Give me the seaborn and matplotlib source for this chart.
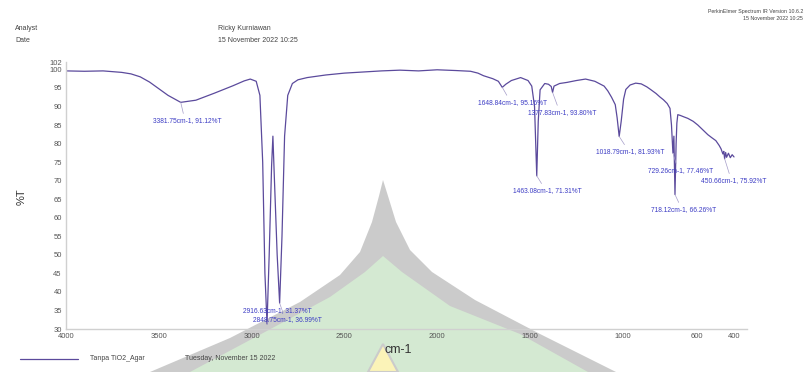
import numpy as np
import pandas as pd
import matplotlib
matplotlib.use("Agg")
import matplotlib.pyplot as plt
from matplotlib.patches import Polygon
import seaborn as sns

# spettro IR (cm-1, %T)
wn = [4000, 3900, 3800, 3700, 3650, 3600, 3550, 3500, 3450, 3381.75, 3300, 3200, 3100, 3040,
      3007, 2975, 2955, 2940, 2928, 2916.63, 2905, 2892, 2885, 2878, 2862, 2848.75, 2836, 2822,
      2805, 2780, 2750, 2700, 2600, 2500, 2400, 2300, 2200, 2100, 2000, 1900, 1820, 1780, 1750,
      1700, 1670, 1648.84, 1630, 1600, 1550, 1510, 1490, 1475, 1463.08, 1455, 1445, 1420, 1400,
      1385, 1377.83, 1370, 1340, 1300, 1250, 1200, 1150, 1100, 1080, 1060, 1040, 1030, 1018.79,
      1008, 995, 983, 960, 930, 900, 870, 850, 820, 800, 780, 760, 745, 737, 729.26, 724, 718.12,
      712, 708, 703, 690, 670, 649, 620, 595, 570, 541, 520, 498, 480, 470, 460, 455, 450.66,
      445, 440, 430, 420, 410, 400]
trasm = [99.6, 99.5, 99.6, 99.2, 98.8, 98.0, 96.6, 94.8, 93.0, 91.12, 91.7, 93.6, 95.6, 96.9,
         97.4, 96.8, 93.0, 75.0, 45.0, 31.37, 50.0, 74.0, 82.0, 72.0, 50.0, 36.99, 55.0, 82.0,
         93.0, 96.2, 97.2, 97.8, 98.5, 99.0, 99.3, 99.6, 99.8, 99.6, 99.9, 99.7, 99.5, 99.0, 98.3,
         97.5, 96.8, 95.16, 96.0, 97.0, 97.8, 97.0, 95.5, 90.0, 71.31, 86.0, 94.5, 96.2, 96.0,
         95.4, 93.80, 95.5, 96.2, 96.5, 97.0, 97.4, 96.8, 95.5, 94.2, 92.5, 90.5, 87.0, 81.93,
         86.0, 92.0, 94.6, 95.8, 96.3, 96.1, 95.3, 94.6, 93.5, 92.6, 91.8, 90.8, 89.5, 85.0, 77.46,
         82.0, 66.26, 80.0, 85.5, 87.8, 87.6, 87.2, 86.8, 86.0, 85.0, 83.8, 82.4, 81.6, 80.8,
         79.5, 78.6, 77.2, 77.9, 75.92, 77.6, 76.3, 77.4, 76.2, 77.0, 76.4]

# picchi etichettati
picchi_wn = [3381.75, 2916.63, 2848.75, 1648.84, 1377.83, 1463.08, 1018.79, 729.26, 450.66, 718.12]
picchi_t = [91.12, 31.37, 36.99, 95.16, 93.80, 71.31, 81.93, 77.46, 75.92, 66.26]
# posizione del testo (cm-1, %T)
pos_testo = [(3530, 86.3), (3045, 34.9), (2991, 32.5), (1782, 91.2), (1512, 88.5),
             (1593, 67.4), (1145, 77.9), (865, 72.8), (579, 70.1), (848, 62.3)]

xticks = [4000, 3500, 3000, 2500, 2000, 1500, 1000, 600, 400]
yticks = [30, 35, 40, 45, 50, 55, 60, 65, 70, 75, 80, 85, 90, 95, 100, 102]

W, H = 807, 372
col_linea = "#5b4a9c"
col_testo = "#3b3bc4"
col_grigio = "#555555"

sns.set_style("white")
plt.rcParams["font.family"] = ["Liberation Sans", "DejaVu Sans"]

fig = plt.figure(figsize=(W / 100, H / 100), dpi=100)


def px(x, y):
    return (x / W, 1 - y / H)


# filigrana dietro al grafico
esterno = [(150, 372), (230, 338), (300, 302), (340, 275), (360, 252), (372, 222), (379, 196),
           (383, 180), (388, 196), (396, 222), (410, 250), (432, 272), (475, 300), (540, 334),
           (616, 372)]
interno = [(190, 372), (265, 332), (330, 297), (365, 272), (383, 256), (402, 272), (450, 306),
           (520, 334), (588, 372)]
giallo = [(368, 372), (383, 344), (398, 372)]
fig.patches.append(Polygon([px(*p) for p in esterno], closed=True, transform=fig.transFigure,
                           facecolor="#cbcbcb", edgecolor="none", zorder=-2))
fig.patches.append(Polygon([px(*p) for p in interno], closed=True, transform=fig.transFigure,
                           facecolor="#d4e9d2", edgecolor="none", zorder=-1))
fig.patches.append(Polygon([px(*p) for p in giallo], closed=True, transform=fig.transFigure,
                           facecolor="#fbf3b8", edgecolor="#cbcbcb", lw=1.5, zorder=-1))

ax = fig.add_axes([66 / W, 1 - 329 / H, (747 - 66) / W, (329 - 62) / H])
ax.set_facecolor("none")
ax.set_zorder(2)

df = pd.DataFrame({"cm": wn, "T": trasm})
sns.lineplot(data=df, x="cm", y="T", sort=False, estimator=None, color=col_linea,
             linewidth=0.9, ax=ax)

for w, t, (tx, ty) in zip(picchi_wn, picchi_t, pos_testo):
    ax.annotate(f"{w:.2f}cm-1, {t:.2f}%T", xy=(w, t), xytext=(tx, ty),
                fontsize=4.8, color=col_testo, ha="left", va="center",
                arrowprops=dict(arrowstyle="-", color="#a49cc8", lw=0.5,
                                shrinkA=0, shrinkB=0, relpos=(0.45, 1)))

ax.set_xlim(4000, 330)
ax.set_ylim(30, 102)
ax.set_xticks(xticks)
ax.set_yticks(yticks)
ax.tick_params(labelsize=5.5, colors=col_grigio, length=2, width=0.5, pad=1)
for s in ["top", "right"]:
    ax.spines[s].set_visible(False)
for s in ["left", "bottom"]:
    ax.spines[s].set_color("#d0d0d0")
    ax.spines[s].set_linewidth(1)
ax.set_xlabel("")
ax.set_ylabel("")

# testi di intestazione
fig.text(*px(15, 29), "Analyst", fontsize=5, color="#444444", va="center")
fig.text(*px(15, 40), "Date", fontsize=5, color="#444444", va="center")
fig.text(*px(218, 29), "Ricky Kurniawan", fontsize=5, color="#444444", va="center")
fig.text(*px(218, 40), "15 November 2022 10:25", fontsize=5, color="#444444", va="center")
fig.text(*px(803, 12), "PerkinElmer Spectrum IR Version 10.6.2", fontsize=3.8,
         color="#444444", ha="right", va="center")
fig.text(*px(803, 19), "15 November 2022 10:25", fontsize=3.8, color="#444444",
         ha="right", va="center")
fig.text(*px(22, 197), "%T", fontsize=8, color="#333333", rotation=90,
         ha="center", va="center")
fig.text(*px(398, 350), "cm-1", fontsize=9, color="#333333", ha="center", va="center")

# legenda in basso
fig.lines.append(plt.Line2D([20 / W, 78 / W], [1 - 359 / H] * 2, transform=fig.transFigure,
                            color=col_linea, lw=0.9))
fig.text(*px(90, 359), "Tanpa TiO2_Agar", fontsize=5, color="#444444", va="center")
fig.text(*px(185, 359), "Tuesday, November 15 2022", fontsize=5, color="#444444", va="center")

fig.savefig("out.png", dpi=100)
